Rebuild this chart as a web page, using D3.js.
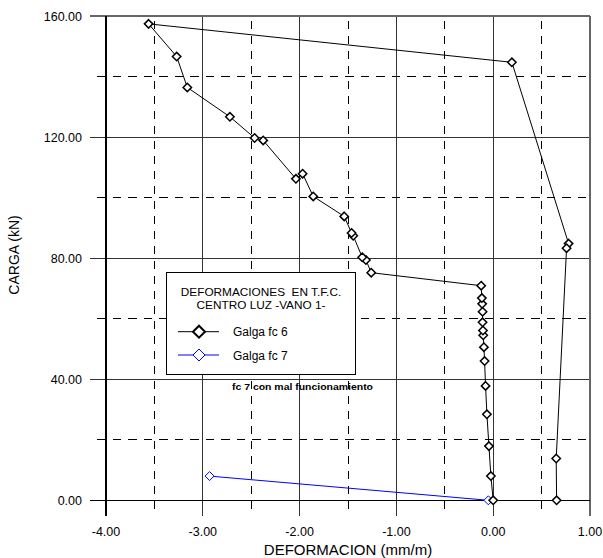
<!DOCTYPE html>
<html>
<head>
<meta charset="utf-8">
<script src="https://cdn.jsdelivr.net/npm/d3@7"></script>
<style>
  html, body { margin: 0; padding: 0; background: #fff; }
  svg { display: block; font-family: "Liberation Sans", Arial, sans-serif; }
</style>
</head>
<body>
<svg id="chart" width="603" height="558"></svg>
<script>
// Strain gauge fc 6 (mm/m) and applied load (kN), in recording order
const def6 = [0.000, -0.024, -0.044, -0.065, -0.079, -0.089, -0.096, -0.103, -0.106, -0.110,
              -0.110, -0.114, -0.117, -0.124, -1.260, -1.315, -1.353, -1.446, -1.463, -1.539,
              -1.859, -1.969, -2.038, -2.376, -2.465, -2.720, -3.160, -3.270, -3.560, 0.193,
              0.779, 0.758, 0.651, 0.655];
const load6 = [0.0, 8.0, 17.9, 28.4, 37.8, 46.0, 50.6, 54.5, 56.1, 58.8,
               62.3, 64.9, 66.8, 70.9, 75.2, 79.4, 80.3, 87.4, 88.3, 93.8,
               100.4, 107.9, 106.2, 118.9, 119.7, 126.7, 136.4, 146.6, 157.4, 144.7,
               84.8, 83.3, 13.8, 0.0];

// Strain gauge fc 7 (faulty)
const def7 = [-2.93, -0.05];
const load7 = [8.0, 0.0];

const xMajor = [-4, -3, -2, -1, 0, 1];
const xMinor = [-3.5, -2.5, -1.5, -0.5, 0.5];
const yMajor = [0, 40, 80, 120, 160];
const yMinor = [20, 60, 100, 140];

const legendTitle = ["DEFORMACIONES  EN T.F.C.", "CENTRO LUZ -VANO 1-"];
const seriesNames = ["Galga fc 6", "Galga fc 7"];
const note = "fc 7 con mal funcionamiento";

const svg = d3.select("#chart");
const L = 106, R = 590, T = 16, B = 500.3;

const x = d3.scaleLinear().domain([-4, 1]).range([L, R]);
const y = d3.scaleLinear().domain([0, 160]).range([B, T]);

// two decimals, plain hyphen for negatives
const fmt = d => d.toFixed(2);

const grid = svg.append("g").attr("shape-rendering", "crispEdges");

// minor (dashed) gridlines, running out past the axes as short ticks
grid.selectAll(".vminor").data(xMinor).join("line")
  .attr("x1", d => x(d)).attr("x2", d => x(d))
  .attr("y1", B + 9).attr("y2", T)
  .attr("stroke", "#000").attr("stroke-width", 1).attr("stroke-dasharray", "8,7");
grid.selectAll(".hminor").data(yMinor).join("line")
  .attr("x1", L - 9).attr("x2", R)
  .attr("y1", d => y(d)).attr("y2", d => y(d))
  .attr("stroke", "#000").attr("stroke-width", 1).attr("stroke-dasharray", "8.5,7");

// major (solid) gridlines with longer ticks
grid.selectAll(".vmajor").data(xMajor.filter(d => d > -4 && d < 1)).join("line")
  .attr("x1", d => x(d)).attr("x2", d => x(d))
  .attr("y1", B + 16).attr("y2", T)
  .attr("stroke", "#333").attr("stroke-width", 1);
grid.selectAll(".hmajor").data(yMajor.filter(d => d > 0 && d < 160)).join("line")
  .attr("x1", L - 16).attr("x2", R)
  .attr("y1", d => y(d)).attr("y2", d => y(d))
  .attr("stroke", "#333").attr("stroke-width", 1);

// frame: top and right edges
grid.append("line").attr("x1", L - 16).attr("x2", R).attr("y1", y(160)).attr("y2", y(160))
  .attr("stroke", "#666").attr("stroke-width", 1.5);
grid.append("line").attr("x1", x(1)).attr("x2", x(1)).attr("y1", B + 16).attr("y2", T)
  .attr("stroke", "#666").attr("stroke-width", 1.5);
// axes
grid.append("line").attr("x1", x(-4)).attr("x2", x(-4)).attr("y1", B + 16).attr("y2", T)
  .attr("stroke", "#000").attr("stroke-width", 1.5);
grid.append("line").attr("x1", L - 16).attr("x2", R).attr("y1", y(0)).attr("y2", y(0))
  .attr("stroke", "#000").attr("stroke-width", 1.5);

// tick labels
svg.selectAll(".xl").data(xMajor).join("text")
  .attr("x", d => x(d)).attr("y", 536)
  .attr("text-anchor", "middle").attr("font-size", 12.5).attr("fill", "#000")
  .text(fmt);
svg.selectAll(".yl").data(yMajor).join("text")
  .attr("x", 82).attr("y", d => y(d) + 4.5)
  .attr("text-anchor", "end").attr("font-size", 12.5).attr("fill", "#000")
  .text(fmt);

// axis titles
svg.append("text").attr("x", (L + R) / 2).attr("y", 555)
  .attr("text-anchor", "middle").attr("font-size", 15).text("DEFORMACION (mm/m)");
svg.append("text").attr("transform", "translate(18.5,255) rotate(-90)")
  .attr("text-anchor", "middle").attr("font-size", 14).text("CARGA (kN)");

// legend box
const lg = svg.append("g");
lg.append("rect").attr("x", 166).attr("y", 272).attr("width", 189).attr("height", 102)
  .attr("fill", "#fff").attr("stroke", "#000").attr("stroke-width", 1)
  .attr("shape-rendering", "crispEdges");
legendTitle.forEach((t, i) => {
  lg.append("text").attr("x", 261).attr("y", 295.5 + i * 13.5)
    .attr("text-anchor", "middle").attr("font-size", 11.8).attr("xml:space", "preserve").text(t);
});

const diamond = (cx, cy, r) => `M${cx},${cy - r}L${cx + r},${cy}L${cx},${cy + r}L${cx - r},${cy}Z`;

const legendRows = [
  { name: seriesNames[0], color: "#000", sw: 2, ly: 331.7 },
  { name: seriesNames[1], color: "#0000ff", sw: 1, ly: 355 }
];
legendRows.forEach(r => {
  lg.append("line").attr("x1", 178).attr("x2", 219).attr("y1", r.ly).attr("y2", r.ly)
    .attr("stroke", r.color).attr("stroke-width", 1);
  lg.append("path").attr("d", diamond(199, r.ly, 6))
    .attr("fill", "#fff").attr("stroke", r.color).attr("stroke-width", r.sw);
  lg.append("text").attr("x", 233).attr("y", r.ly + 4.5).attr("font-size", 12).text(r.name);
});

// note below the legend
svg.append("text").attr("x", 232).attr("y", 390).attr("font-size", 8.5).attr("font-weight", "bold")
  .attr("textLength", 141).attr("lengthAdjust", "spacingAndGlyphs").text(note);

// series
const line = d3.line().x(d => x(d[0])).y(d => y(d[1]));
const s6 = def6.map((d, i) => [d, load6[i]]);
const s7 = def7.map((d, i) => [d, load7[i]]);

svg.append("path").datum(s6).attr("d", line)
  .attr("fill", "none").attr("stroke", "#000").attr("stroke-width", 1);
svg.append("path").datum(s7).attr("d", line)
  .attr("fill", "none").attr("stroke", "#0000ff").attr("stroke-width", 1);

svg.selectAll(".m7").data(s7).join("path")
  .attr("d", d => diamond(x(d[0]), y(d[1]), 4.5))
  .attr("fill", "#fff").attr("stroke", "#0000ff").attr("stroke-width", 1);
svg.selectAll(".m6").data(s6).join("path")
  .attr("d", d => diamond(x(d[0]), y(d[1]), 4.2))
  .attr("fill", "#fff").attr("stroke", "#000").attr("stroke-width", 1.5);
</script>
</body>
</html>
